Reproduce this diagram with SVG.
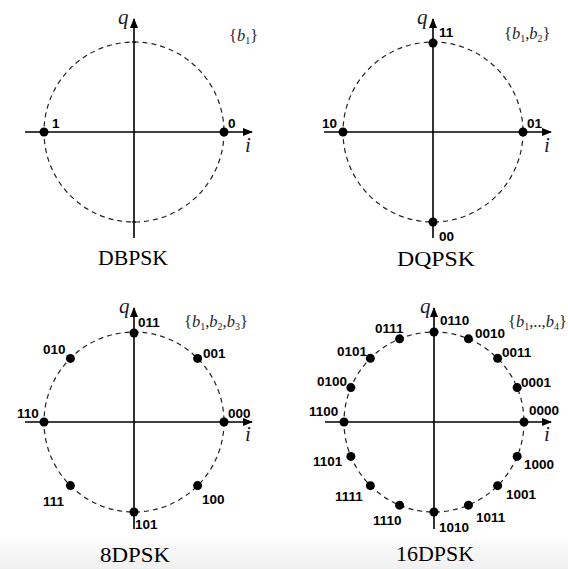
<svg xmlns="http://www.w3.org/2000/svg" width="568" height="569" viewBox="0 0 568 569">
<defs>
<linearGradient id="bg" x1="0" y1="0" x2="0" y2="1">
<stop offset="0" stop-color="#ffffff"/>
<stop offset="1" stop-color="#efefef"/>
</linearGradient>
<marker id="arr" viewBox="0 0 10 8" refX="9" refY="4" markerWidth="10" markerHeight="8" orient="auto" markerUnits="userSpaceOnUse">
<path d="M0,0 L10,4 L0,8 z" fill="#000"/>
</marker>
<style>
.ax{stroke:#000;stroke-width:1.6;fill:none;marker-end:url(#arr)}
.ci{stroke:#222;stroke-width:1.2;fill:none;stroke-dasharray:5 4}
.tk{stroke:#000;stroke-width:1.2}
.dot{fill:#000}
.lb{font-family:"Liberation Sans",Arial,sans-serif;font-weight:bold;font-size:13.5px;fill:#000}
.ttl{font-family:"Liberation Serif","Times New Roman",serif;font-size:21px;fill:#000;text-anchor:middle}
.var{font-family:"Liberation Serif","Times New Roman",serif;font-style:italic;font-size:21px;fill:#1a1a30}
.set{font-family:"Liberation Serif","Times New Roman",serif;font-size:16.5px;fill:#1e1e2c}
.set .it{font-style:italic}
.set .sb{font-size:10px}
</style>
</defs>
<rect x="0" y="0" width="568" height="569" fill="#fff"/>
<rect x="0" y="536" width="568" height="33" fill="url(#bg)"/>

<g id="connectors">
<line class="ax" x1="25" y1="132" x2="252" y2="132"/>
<line class="ax" x1="134" y1="238" x2="134" y2="19"/>
<line class="ax" x1="324" y1="132" x2="551" y2="132"/>
<line class="ax" x1="433" y1="238" x2="433" y2="19"/>
<line class="ax" x1="25" y1="422" x2="252" y2="422"/>
<line class="ax" x1="134" y1="529" x2="134" y2="308"/>
<line class="ax" x1="325" y1="422" x2="551" y2="422"/>
<line class="ax" x1="434" y1="529" x2="434" y2="308"/>
</g>

<g id="dbpsk">
<circle class="ci" cx="134" cy="132" r="90"/>
<line class="tk" x1="132" y1="42" x2="136" y2="42"/>
<line class="tk" x1="132" y1="222" x2="136" y2="222"/>
<text class="var" x="118" y="24">q</text>
<text class="var" x="245" y="152">i</text>
<text class="set" x="229" y="41">{<tspan class="it">b</tspan><tspan class="sb" dy="3">1</tspan><tspan dy="-3">}</tspan></text>
<g id="p1-1"><circle class="dot" cx="44" cy="132" r="4.5"/><text class="lb" x="52" y="128">1</text></g>
<g id="p1-0"><circle class="dot" cx="224" cy="132" r="4.5"/><text class="lb" x="228" y="128">0</text></g>
<text class="ttl" x="133" y="265" textLength="70" lengthAdjust="spacingAndGlyphs">DBPSK</text>
</g>

<g id="dqpsk">
<circle class="ci" cx="433" cy="132" r="90"/>
<text class="var" x="417" y="24">q</text>
<text class="var" x="544" y="152">i</text>
<text class="set" x="504" y="39">{<tspan class="it">b</tspan><tspan class="sb" dy="3">1</tspan><tspan dy="-3">,</tspan><tspan class="it">b</tspan><tspan class="sb" dy="3">2</tspan><tspan dy="-3">}</tspan></text>
<g id="p2-11"><circle class="dot" cx="433" cy="43" r="4.5"/><text class="lb" x="439" y="37">11</text></g>
<g id="p2-10"><circle class="dot" cx="343" cy="132" r="4.5"/><text class="lb" x="322" y="128">10</text></g>
<g id="p2-01"><circle class="dot" cx="523" cy="132" r="4.5"/><text class="lb" x="527" y="128">01</text></g>
<g id="p2-00"><circle class="dot" cx="433" cy="222" r="4.5"/><text class="lb" x="439" y="241">00</text></g>
<text class="ttl" x="436" y="266" textLength="78" lengthAdjust="spacingAndGlyphs">DQPSK</text>
</g>

<g id="d8psk">
<circle class="ci" cx="134" cy="422" r="90"/>
<text class="var" x="119" y="313">q</text>
<text class="var" x="245" y="441">i</text>
<text class="set" x="184" y="327">{<tspan class="it">b</tspan><tspan class="sb" dy="3">1</tspan><tspan dy="-3">,</tspan><tspan class="it">b</tspan><tspan class="sb" dy="3">2</tspan><tspan dy="-3">,</tspan><tspan class="it">b</tspan><tspan class="sb" dy="3">3</tspan><tspan dy="-3">}</tspan></text>
<g id="p3-000"><circle class="dot" cx="224" cy="422" r="4.5"/><text class="lb" x="228" y="418">000</text></g>
<g id="p3-001"><circle class="dot" cx="197.6" cy="358.4" r="4.5"/><text class="lb" x="203" y="358">001</text></g>
<g id="p3-011"><circle class="dot" cx="134" cy="333" r="4.5"/><text class="lb" x="138" y="327">011</text></g>
<g id="p3-010"><circle class="dot" cx="70.4" cy="358.4" r="4.5"/><text class="lb" x="43" y="354">010</text></g>
<g id="p3-110"><circle class="dot" cx="44" cy="422" r="4.5"/><text class="lb" x="17" y="418">110</text></g>
<g id="p3-111"><circle class="dot" cx="70.4" cy="485.6" r="4.5"/><text class="lb" x="43" y="506">111</text></g>
<g id="p3-101"><circle class="dot" cx="134" cy="512" r="4.5"/><text class="lb" x="135" y="529">101</text></g>
<g id="p3-100"><circle class="dot" cx="197.6" cy="485.6" r="4.5"/><text class="lb" x="202" y="504">100</text></g>
<text class="ttl" x="135" y="562" textLength="70" lengthAdjust="spacingAndGlyphs">8DPSK</text>
</g>

<g id="d16psk">
<circle class="ci" cx="434" cy="422" r="90"/>
<text class="var" x="420" y="313">q</text>
<text class="var" x="544" y="441">i</text>
<text class="set" x="508" y="327">{<tspan class="it">b</tspan><tspan class="sb" dy="3">1</tspan><tspan dy="-3">,..,</tspan><tspan class="it">b</tspan><tspan class="sb" dy="3">4</tspan><tspan dy="-3">}</tspan></text>
<g id="p4-0000"><circle class="dot" cx="524" cy="422" r="4.5"/><text class="lb" x="529" y="415">0000</text></g>
<g id="p4-0001"><circle class="dot" cx="517.15" cy="387.56" r="4.5"/><text class="lb" x="521" y="387">0001</text></g>
<g id="p4-0011"><circle class="dot" cx="497.64" cy="358.36" r="4.5"/><text class="lb" x="502" y="357">0011</text></g>
<g id="p4-0010"><circle class="dot" cx="468.44" cy="338.85" r="4.5"/><text class="lb" x="475" y="338">0010</text></g>
<g id="p4-0110"><circle class="dot" cx="434" cy="332" r="4.5"/><text class="lb" x="440" y="325">0110</text></g>
<g id="p4-0111"><circle class="dot" cx="399.56" cy="338.85" r="4.5"/><text class="lb" x="375" y="333">0111</text></g>
<g id="p4-0101"><circle class="dot" cx="370.36" cy="358.36" r="4.5"/><text class="lb" x="337" y="356">0101</text></g>
<g id="p4-0100"><circle class="dot" cx="350.85" cy="387.56" r="4.5"/><text class="lb" x="317" y="386">0100</text></g>
<g id="p4-1100"><circle class="dot" cx="344" cy="422" r="4.5"/><text class="lb" x="309" y="416">1100</text></g>
<g id="p4-1101"><circle class="dot" cx="350.85" cy="456.44" r="4.5"/><text class="lb" x="313" y="466">1101</text></g>
<g id="p4-1111"><circle class="dot" cx="370.36" cy="485.64" r="4.5"/><text class="lb" x="335" y="501">1111</text></g>
<g id="p4-1110"><circle class="dot" cx="399.56" cy="505.15" r="4.5"/><text class="lb" x="373" y="525">1110</text></g>
<g id="p4-1010"><circle class="dot" cx="434" cy="512" r="4.5"/><text class="lb" x="439" y="532">1010</text></g>
<g id="p4-1011"><circle class="dot" cx="468.44" cy="505.15" r="4.5"/><text class="lb" x="476" y="522">1011</text></g>
<g id="p4-1001"><circle class="dot" cx="497.64" cy="485.64" r="4.5"/><text class="lb" x="506" y="499">1001</text></g>
<g id="p4-1000"><circle class="dot" cx="517.15" cy="456.44" r="4.5"/><text class="lb" x="524" y="469">1000</text></g>
<text class="ttl" x="435" y="561" textLength="78" lengthAdjust="spacingAndGlyphs">16DPSK</text>
</g>
</svg>
